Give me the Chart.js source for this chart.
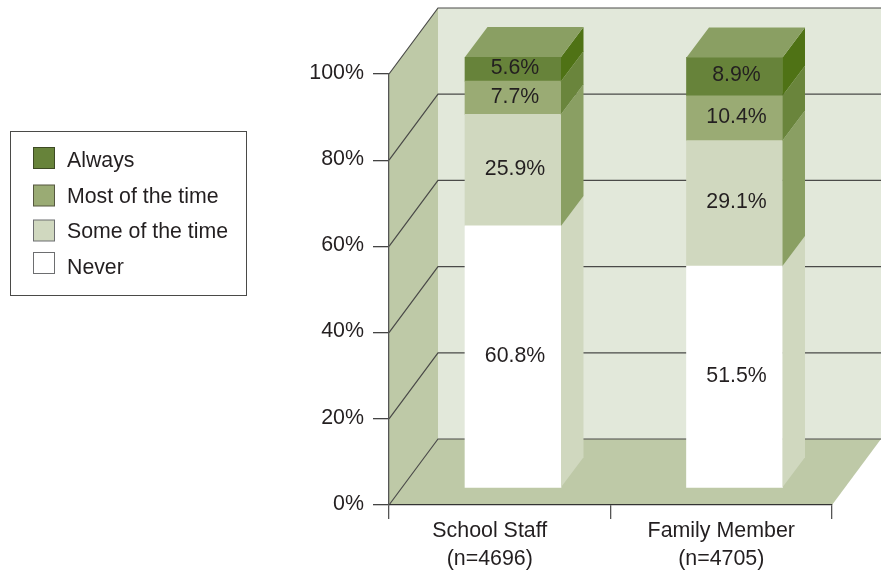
<!DOCTYPE html>
<html>
<head>
<meta charset="utf-8">
<title>Stacked 3D bars</title>
<script src="https://cdn.jsdelivr.net/npm/chart.js@4"></script>
<style>
  html, body { margin: 0; padding: 0; background: #fff; }
  canvas { display: block; }
</style>
</head>
<body>
<canvas id="chart" width="882" height="573"></canvas>
<script>
// Values
const categories = [['School Staff', '(n=4696)'], ['Family Member', '(n=4705)']];
const never = [60.8, 51.5];
const someOfTheTime = [25.9, 29.1];
const mostOfTheTime = [7.7, 10.4];
const always = [5.6, 8.9];

const FONT = 'Liberation Sans, Arial, sans-serif';
const TEXT = '#231f20';
const WALL_BACK = '#e2e8da';
const WALL_SIDE = '#bec9a7';
const LINE = '#4a4a48';

// depth of the box and of the bars
const BOX_DX = 49, BOX_DY = -66;
const BAR_DX = 13.25, BAR_DY = -17;
const SIDE_DX = 22.5, SIDE_DY = -30;

function poly(ctx, pts, fill) {
  ctx.beginPath();
  pts.forEach((p, i) => i ? ctx.lineTo(p[0], p[1]) : ctx.moveTo(p[0], p[1]));
  ctx.closePath();
  ctx.fillStyle = fill;
  ctx.fill();
}

function line(ctx, pts, color, width) {
  ctx.beginPath();
  pts.forEach((p, i) => i ? ctx.lineTo(p[0], p[1]) : ctx.moveTo(p[0], p[1]));
  ctx.strokeStyle = color;
  ctx.lineWidth = width;
  ctx.stroke();
}

// back wall, left wall, floor and the gridlines that run round them
const boxPlugin = {
  id: 'box',
  beforeDraw(chart) {
    const { ctx, chartArea: a, scales: { y } } = chart;
    ctx.save();
    poly(ctx, [[a.left + BOX_DX, a.top + BOX_DY], [a.right + BOX_DX, a.top + BOX_DY],
      [a.right + BOX_DX, a.bottom + BOX_DY], [a.left + BOX_DX, a.bottom + BOX_DY]], WALL_BACK);
    poly(ctx, [[a.left, a.top], [a.left + BOX_DX, a.top + BOX_DY],
      [a.left + BOX_DX, a.bottom + BOX_DY], [a.left, a.bottom]], WALL_SIDE);
    poly(ctx, [[a.left, a.bottom], [a.right, a.bottom],
      [a.right + BOX_DX, a.bottom + BOX_DY], [a.left + BOX_DX, a.bottom + BOX_DY]], WALL_SIDE);
    y.ticks.forEach(t => {
      const py = y.getPixelForValue(t.value);
      line(ctx, [[a.left, py], [a.left + BOX_DX, py + BOX_DY], [a.right + BOX_DX, py + BOX_DY]], LINE, 1.2);
    });
    ctx.restore();
  }
};

// bars are shifted into the box, then get their side and top faces and labels
const barsPlugin = {
  id: 'bars3d',
  beforeDatasetsDraw(chart) {
    chart.ctx.save();
    chart.ctx.translate(BAR_DX, BAR_DY);
  },
  afterDatasetsDraw(chart) {
    const { ctx, data } = chart;
    data.datasets.forEach((ds, di) => {
      chart.getDatasetMeta(di).data.forEach(bar => {
        const r = bar.x + bar.width / 2, l = bar.x - bar.width / 2;
        poly(ctx, [[r, bar.y], [r + SIDE_DX, bar.y + SIDE_DY], [r + SIDE_DX, bar.base + SIDE_DY], [r, bar.base]], ds.sideColor);
        if (di === data.datasets.length - 1) {
          poly(ctx, [[l, bar.y], [l + SIDE_DX, bar.y + SIDE_DY], [r + SIDE_DX, bar.y + SIDE_DY], [r, bar.y]], ds.topColor);
        }
      });
    });
    ctx.font = '21.3px ' + FONT;
    ctx.fillStyle = TEXT;
    ctx.textAlign = 'center';
    ctx.textBaseline = 'middle';
    data.datasets.forEach((ds, di) => {
      chart.getDatasetMeta(di).data.forEach((bar, i) => {
        ctx.fillText(ds.data[i].toFixed(1) + '%', bar.x + 2, (bar.y + bar.base) / 2 - 1);
      });
    });
    ctx.restore();
  }
};

// boxed legend on the left, top of the stack first
const legendPlugin = {
  id: 'boxLegend',
  afterDraw(chart) {
    const { ctx, data } = chart;
    const rowY = [158, 195.5, 230.5, 263];
    ctx.save();
    ctx.strokeStyle = LINE;
    ctx.lineWidth = 1;
    ctx.strokeRect(10.5, 131.5, 236, 164);
    ctx.font = '21.3px ' + FONT;
    ctx.textAlign = 'left';
    ctx.textBaseline = 'middle';
    data.datasets.slice().reverse().forEach((ds, i) => {
      ctx.fillStyle = ds.backgroundColor;
      ctx.fillRect(33.5, rowY[i] - 10.5, 21, 21);
      ctx.strokeStyle = ds.swatchBorder;
      ctx.strokeRect(33.5, rowY[i] - 10.5, 21, 21);
      ctx.fillStyle = TEXT;
      ctx.fillText(ds.label, 67, [161, 197, 232, 268][i]);
    });
    ctx.restore();
  }
};

// the first category label sits left of its slot in the original,
// and the percent labels ride a pixel above their ticks
const labelShiftPlugin = {
  id: 'labelShift',
  afterLayout(chart) {
    chart.scales.x.getLabelItems()[0].options.translation[0] -= 10;
    chart.scales.y.getLabelItems().forEach(item => { item.options.translation[1] -= 1; });
  }
};

new Chart(document.getElementById('chart').getContext('2d'), {
  type: 'bar',
  data: {
    labels: categories,
    datasets: [
      { label: 'Never', data: never, backgroundColor: '#ffffff', sideColor: '#d0d8bf', swatchBorder: '#6d6e70' },
      { label: 'Some of the time', data: someOfTheTime, backgroundColor: '#d0d8bf', sideColor: '#8a9f63', swatchBorder: '#6d6e70' },
      { label: 'Most of the time', data: mostOfTheTime, backgroundColor: '#9aab74', sideColor: '#6a853c', swatchBorder: '#55573f' },
      { label: 'Always', data: always, backgroundColor: '#67833a', sideColor: '#4f7215', topColor: '#8a9f63', swatchBorder: '#3d4a24' }
    ]
  },
  options: {
    responsive: false,
    animation: false,
    layout: { padding: { top: 74, right: 50, left: 0, bottom: 0 } },
    plugins: { legend: { display: false }, tooltip: { enabled: false } },
    datasets: { bar: { barThickness: 96, borderWidth: 0 } },
    scales: {
      x: {
        stacked: true,
        afterFit(scale) { scale.height = 68; },
        border: { color: '#333', width: 1.3 },
        grid: { drawOnChartArea: false, tickLength: 14, color: '#555', lineWidth: 1.3 },
        ticks: { color: TEXT, padding: -2, maxRotation: 0, font: { family: FONT, size: 21.4, lineHeight: 1.3 } }
      },
      y: {
        stacked: true,
        min: 0,
        max: 100,
        afterFit(scale) { scale.width = 389; },
        border: { color: '#555', width: 1.3 },
        grid: { drawOnChartArea: false, tickLength: 16, color: '#444', lineWidth: 1.3 },
        ticks: { stepSize: 20, color: TEXT, padding: 9, font: { family: FONT, size: 21.4 }, callback: v => v + '%' }
      }
    }
  },
  plugins: [boxPlugin, barsPlugin, legendPlugin, labelShiftPlugin]
});
</script>
</body>
</html>
